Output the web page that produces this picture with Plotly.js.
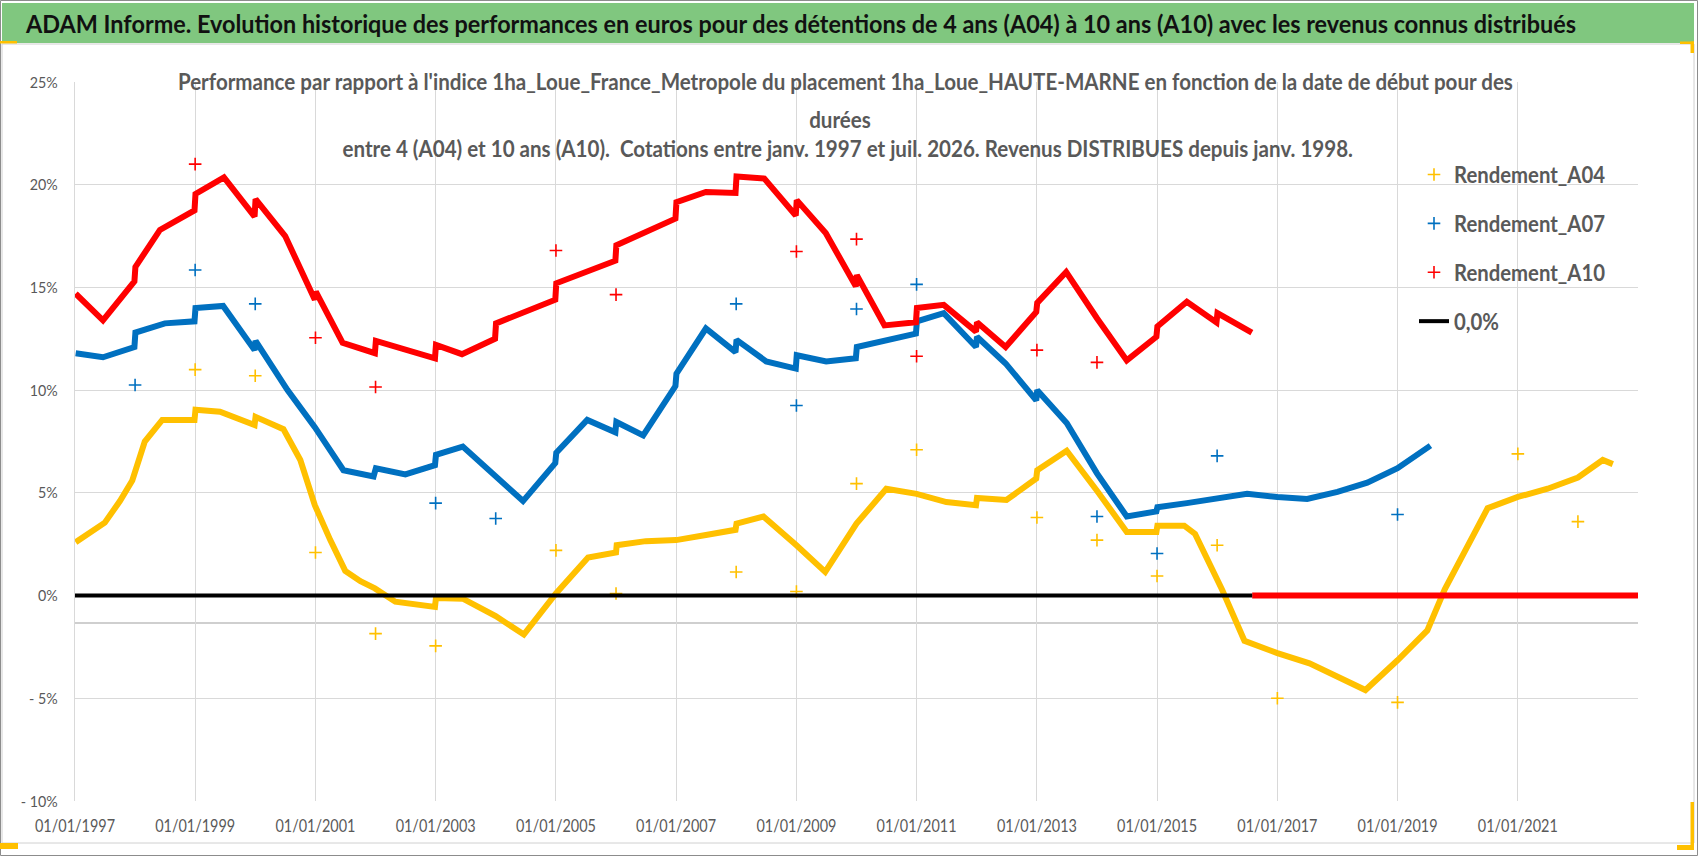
<!DOCTYPE html>
<html>
<head>
<meta charset="utf-8">
<script src="https://cdn.plot.ly/plotly-3.0.1.min.js"></script>
<style>html,body{margin:0;padding:0;background:#fff;}</style>
</head>
<body>
<div id="chart"></div>
<script>
// Rendement_A04 : main curve (read every few months) and the isolated 1st of January points
var a04Dates = ['1997-01-05','1997-04-01','1997-07-01','1997-10-01','1997-12-15','1998-03-01','1998-06-15','1998-12-28',
  '1999-01-03','1999-06-01','1999-12-28','2000-01-03','2000-06-20','2000-10-01','2000-12-28','2001-04-01','2001-07-01',
  '2001-10-01','2001-12-28','2002-05-01','2002-12-28','2003-01-03','2003-06-15','2004-01-01','2004-06-20','2005-01-01',
  '2005-07-15','2006-01-01','2006-01-05','2006-07-01','2007-01-01','2007-07-01','2007-12-28','2008-01-03','2008-06-15',
  '2009-01-01','2009-06-25','2010-01-01','2010-07-01','2011-01-01','2011-07-01','2011-12-28','2012-01-03','2012-06-30',
  '2012-12-28','2013-01-03','2013-07-01','2014-01-01','2014-07-01','2014-12-28','2015-01-03','2015-06-15','2015-08-20',
  '2016-02-01','2016-06-15','2017-01-01','2017-07-15','2018-06-20','2019-01-01','2019-07-01','2019-10-15','2020-07-01',
  '2021-01-01','2021-07-01','2022-01-01','2022-06-01','2022-08-01'];
var a04Values = [2.6,3.1,3.55,4.6,5.6,7.5,8.55,8.55,
  9.05,8.95,8.3,8.7,8.1,6.6,4.4,2.7,1.2,
  0.7,0.35,-0.3,-0.55,-0.12,-0.15,-1.0,-1.9,0.1,
  1.85,2.1,2.45,2.65,2.7,2.95,3.2,3.5,3.85,
  2.45,1.15,3.5,5.2,4.95,4.55,4.4,4.75,4.65,
  5.7,6.1,7.05,5.1,3.1,3.1,3.4,3.4,3.0,
  0.27,-2.2,-2.8,-3.3,-4.6,-3.15,-1.7,0.3,4.25,
  4.8,5.2,5.75,6.6,6.4];
var a04OutDates = ['1999-01-01','2000-01-01','2001-01-01','2002-01-01','2003-01-01','2005-01-01','2006-01-01','2008-01-01',
  '2009-01-01','2010-01-01','2011-01-01','2013-01-01','2014-01-01','2015-01-01','2016-01-01','2017-01-01','2019-01-01',
  '2021-01-01','2022-01-01'];
var a04OutValues = [11.0,10.7,2.1,-1.85,-2.45,2.2,0.1,1.15,0.2,5.45,7.1,3.8,2.7,0.95,2.45,-5.0,-5.2,6.9,3.6];

// Rendement_A07
var a07Dates = ['1997-01-05','1997-06-20','1997-12-28','1998-01-03','1998-07-01','1998-12-28','1999-01-03','1999-06-20',
  '1999-12-28','2000-01-03','2000-07-15','2000-12-28','2001-06-20','2001-12-20','2002-01-03','2002-07-01','2002-12-28',
  '2003-01-03','2003-06-15','2003-12-28','2004-06-15','2004-12-28','2005-01-03','2005-07-10','2005-12-28','2006-01-03',
  '2006-06-15','2006-12-28','2007-01-03','2007-07-01','2007-12-28','2008-01-03','2008-07-01','2008-12-28','2009-01-03',
  '2009-07-01','2009-12-28','2010-01-03','2010-12-28','2011-01-03','2011-06-15','2011-12-28','2012-01-03','2012-06-25',
  '2012-12-28','2013-01-03','2013-07-01','2014-01-01','2014-04-20','2014-07-01','2014-12-28','2015-01-03','2015-07-01',
  '2016-01-01','2016-07-01','2017-01-01','2017-07-01','2018-01-01','2018-07-01','2019-01-01','2019-07-20'];
var a07Values = [11.8,11.6,12.1,12.8,13.25,13.35,14.0,14.1,
  11.95,12.4,10.0,8.2,6.1,5.8,6.2,5.9,6.35,
  6.85,7.25,5.8,4.6,6.45,6.95,8.55,7.95,8.45,
  7.8,10.2,10.8,13.0,11.85,12.45,11.4,11.05,11.7,
  11.4,11.55,12.1,12.75,13.35,13.75,12.1,12.6,11.3,
  9.5,10.0,8.4,5.95,4.65,3.85,4.1,4.3,4.5,
  4.75,4.95,4.8,4.7,5.05,5.5,6.2,7.3];
var a07OutDates = ['1998-01-01','1999-01-01','2000-01-01','2003-01-01','2004-01-01','2008-01-01','2009-01-01','2010-01-01',
  '2011-01-01','2014-01-01','2015-01-01','2016-01-01','2019-01-01'];
var a07OutValues = [10.25,15.85,14.2,4.5,3.75,14.2,9.25,13.95,15.15,3.85,2.05,6.8,3.95];

// Rendement_A10 (0 after mid-2016)
var a10Dates = ['1997-01-05','1997-06-20','1997-12-28','1998-01-03','1998-06-01','1998-12-28','1999-01-03','1999-06-25',
  '1999-12-28','2000-01-03','2000-07-01','2000-12-28','2001-01-03','2001-06-15','2001-12-28','2002-01-03','2002-12-28',
  '2003-01-03','2003-06-10','2003-12-28','2004-01-03','2004-12-28','2005-01-03','2005-12-28','2006-01-03','2006-12-28',
  '2007-01-03','2007-07-01','2007-12-28','2008-01-03','2008-06-20','2008-12-28','2009-01-03','2009-06-28','2009-12-28',
  '2010-01-03','2010-06-20','2010-12-28','2011-01-03','2011-06-15','2011-12-28','2012-01-03','2012-06-25','2012-12-28',
  '2013-01-03','2013-06-28','2014-01-01','2014-07-01','2014-12-28','2015-01-03','2015-07-01','2015-12-28','2016-01-03',
  '2016-07-30','2016-07-31','2016-08-01','2023-01-01'];
var a10Values = [14.7,13.4,15.3,16.0,17.8,18.75,19.55,20.35,
  18.45,19.3,17.5,14.4,14.8,12.3,11.8,12.4,11.55,
  12.2,11.75,12.5,13.25,14.4,15.2,16.3,17.05,18.35,
  19.15,19.65,19.6,20.4,20.3,18.5,19.25,17.65,15.05,
  15.6,13.15,13.3,14.0,14.15,12.85,13.3,12.1,13.8,
  14.25,15.75,13.5,11.45,12.6,13.1,14.3,13.3,13.75,
  12.8,null,0,0];
var a10OutDates = ['1999-01-01','2001-01-01','2002-01-01','2005-01-01','2006-01-01','2009-01-01','2010-01-01','2011-01-01',
  '2013-01-01','2014-01-01'];
var a10OutValues = [21.0,12.55,10.15,16.8,14.65,16.75,17.35,11.65,11.95,11.35];

// 0,0% reference series
var zeroDates = ['1997-01-01','2016-08-01'];
var zeroValues = [0,0];

var xTickVals = ['1997-01-01','1999-01-01','2001-01-01','2003-01-01','2005-01-01','2007-01-01','2009-01-01',
  '2011-01-01','2013-01-01','2015-01-01','2017-01-01','2019-01-01','2021-01-01'];
var yTickVals = [-10,-5,0,5,10,15,20,25];
var yTickText = ['- 10%','- 5%','0%','5%','10%','15%','20%','25%'];

var titleText = 'ADAM Informe. Evolution historique des performances en euros pour des détentions de 4 ans (A04) à 10 ans (A10) avec les revenus connus distribués';
var subLines = ["Performance par rapport à l'indice 1ha_Loue_France_Metropole du placement 1ha_Loue_HAUTE-MARNE en fonction de la date de début pour des",
  'durées',
  'entre 4 (A04) et 10 ans (A10).  Cotations entre janv. 1997 et juil. 2026. Revenus DISTRIBUES depuis janv. 1998.'];

var yellow = '#FFC000', blue = '#0070C0', red = '#FF0000';
var grey = '#595959';
var fam = 'Lato, Liberation Sans, sans-serif';

var W = 1698, H = 856;
var M = {l: 75, r: 60, t: 82, b: 55, pad: 0};
function px(x) { return (x - M.l) / (W - M.l - M.r); }
function py(y) { return (H - M.b - y) / (H - M.t - M.b); }

function band(x, y, color, group) {
  return {x: x, y: y, type: 'scatter', mode: 'lines', connectgaps: false,
    line: {color: color, width: 6}, legendgroup: group, showlegend: false, hoverinfo: 'skip'};
}
function pts(x, y, color, group, name) {
  return {x: x, y: y, type: 'scatter', mode: 'markers', name: name, legendgroup: group,
    marker: {symbol: 'cross-thin', size: 9, color: color, line: {color: color, width: 1.6}}};
}

var data = [
  band(a04Dates, a04Values, yellow, 'a04'),
  pts(a04OutDates, a04OutValues, yellow, 'a04', 'Rendement_A04'),
  band(a07Dates, a07Values, blue, 'a07'),
  pts(a07OutDates, a07OutValues, blue, 'a07', 'Rendement_A07'),
  band(a10Dates, a10Values, red, 'a10'),
  pts(a10OutDates, a10OutValues, red, 'a10', 'Rendement_A10'),
  {x: zeroDates, y: zeroValues, type: 'scatter', mode: 'lines', name: '0,0%', legendgroup: 'zero',
    line: {color: '#000000', width: 4}}
];

function box(x0, y0, x1, y1, fill, line) {
  return {type: 'rect', xref: 'paper', yref: 'paper', x0: px(x0), x1: px(x1), y0: py(y1), y1: py(y0),
    fillcolor: fill, line: line ? {color: line, width: 1} : {width: 0}, layer: 'above'};
}

var shapes = [
  box(0.5, 0.5, 1697.5, 855.5, 'rgba(0,0,0,0)', '#8c8c8c'),
  box(2, 44, 1694, 843, 'rgba(0,0,0,0)', '#d0d0d0'),
  box(2, 3, 1694, 43, '#80C77F', null),
  // white boxes behind the chart title and the legend
  {type: 'rect', xref: 'paper', yref: 'paper', x0: px(170), x1: px(1516), y0: py(163), y1: py(66),
    fillcolor: '#ffffff', line: {width: 0}, layer: 'between'},
  {type: 'rect', xref: 'paper', yref: 'paper', x0: px(1385), x1: px(1640), y0: py(347), y1: py(150),
    fillcolor: '#ffffff', line: {width: 0}, layer: 'between'},
  // secondary horizontal axis line
  {type: 'line', xref: 'paper', yref: 'y', x0: 0, x1: 1, y0: -1.34, y1: -1.34,
    line: {color: '#bfbfbf', width: 1.5}, layer: 'between'},
  // selection handles
  box(0, 41, 17, 43.5, yellow, null),
  box(0, 843, 18, 849, yellow, null),
  box(1680, 41.5, 1694, 44, yellow, null),
  box(1690.5, 41.5, 1694, 53, yellow, null),
  box(1690.5, 802, 1694, 850, yellow, null),
  box(1677, 845, 1694, 850, yellow, null)
];

var subFont = {family: fam, size: 22, color: grey, weight: 'bold'};
var subPos = [[845, 81], [840, 119], [848, 149]];
var annotations = subLines.map(function (t, i) {
  return {text: t, x: px(subPos[i][0]), y: py(subPos[i][1]), xref: 'paper', yref: 'paper',
    xanchor: 'center', yanchor: 'middle', showarrow: false, font: subFont};
});

var layout = {
  width: W, height: H,
  margin: M,
  paper_bgcolor: '#ffffff',
  plot_bgcolor: '#ffffff',
  title: {
    text: titleText,
    xref: 'container', yref: 'container', x: 26 / W, y: 1 - 24 / H, xanchor: 'left', yanchor: 'middle',
    font: {family: fam, size: 25, color: '#111111', weight: 'bold'}
  },
  xaxis: {
    type: 'date', range: ['1997-01-01', '2023-01-01'],
    tickvals: xTickVals, tickformat: '%d/%m/%Y',
    showgrid: true, gridcolor: '#d9d9d9', gridwidth: 1,
    showline: false, zeroline: false, ticks: '', ticklabelstandoff: 12,
    tickfont: {family: fam, size: 18, color: grey}
  },
  yaxis: {
    range: [-10, 25], tickvals: yTickVals, ticktext: yTickText,
    showgrid: true, gridcolor: '#d9d9d9', gridwidth: 1,
    showline: true, linecolor: '#d9d9d9', linewidth: 1,
    zeroline: false, ticks: '', ticklabelstandoff: 13,
    tickfont: {family: fam, size: 16, color: grey}
  },
  legend: {
    x: px(1414), y: py(153), xanchor: 'left', yanchor: 'top',
    bgcolor: 'rgba(255,255,255,0)', traceorder: 'grouped', tracegroupgap: 16,
    font: {family: fam, size: 23, color: grey, weight: 'bold'}
  },
  shapes: shapes,
  annotations: annotations,
  showlegend: true
};

// the picture uses a condensed face: squeeze the texts to the widths they have there,
// the factor is taken from one known text of each group
function squeeze(nodes, refText, refWidth) {
  nodes = Array.prototype.slice.call(nodes);
  var ref = nodes.filter(function (t) { return t.textContent === refText; })[0] || nodes[0];
  if (!ref) return;
  var f = refWidth / ref.getComputedTextLength();
  nodes.forEach(function (t) {
    var w = t.getComputedTextLength();
    t.setAttribute('textLength', w * f);
    t.setAttribute('lengthAdjust', 'spacingAndGlyphs');
  });
}

Plotly.newPlot('chart', data, layout, {displayModeBar: false, staticPlot: true}).then(function (gd) {
  squeeze(gd.querySelectorAll('.gtitle'), titleText, 1550);
  squeeze(gd.querySelectorAll('.annotation-text'), subLines[0], 1335);
  squeeze(gd.querySelectorAll('.legendtext'), 'Rendement_A04', 151);
  squeeze(gd.querySelectorAll('.xtick text'), '01/01/1997', 80);
  squeeze(gd.querySelectorAll('.ytick text'), '25%', 28);
});
</script>
</body>
</html>
